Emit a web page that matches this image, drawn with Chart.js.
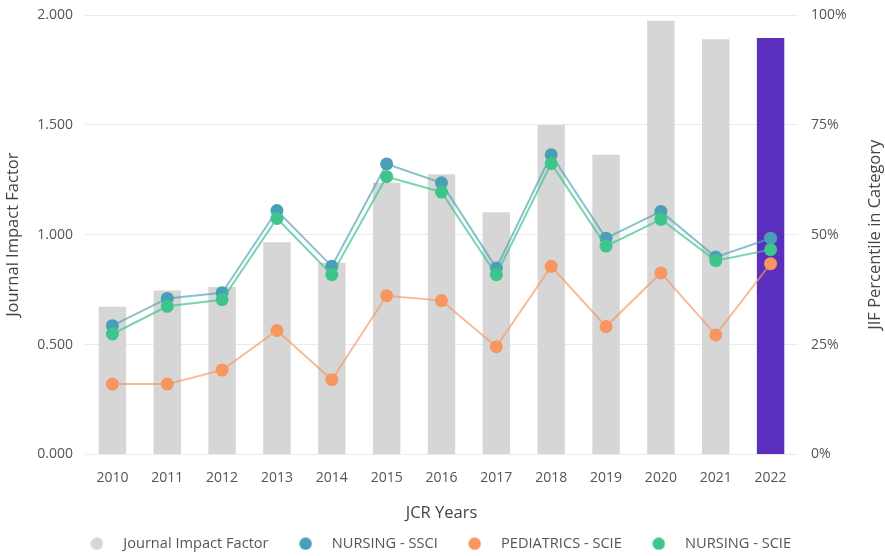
<!DOCTYPE html>
<html>
<head>
<meta charset="utf-8">
<script src="https://cdn.jsdelivr.net/npm/chart.js@4.4.1/dist/chart.umd.min.js"></script>
<style>
  html, body { margin: 0; padding: 0; background: #fff; }
  #wrap { width: 885px; height: 556px; }
</style>
</head>
<body>
<div id="wrap"><canvas id="jcrChart" width="885" height="556"></canvas></div>
<script>
// Dados do gráfico
const years = ['2010', '2011', '2012', '2013', '2014', '2015', '2016', '2017', '2018', '2019', '2020', '2021', '2022'];
const impactFactor = [0.672, 0.746, 0.762, 0.966, 0.872, 1.237, 1.275, 1.102, 1.499, 1.364, 1.974, 1.890, 1.895];
const nursingSsci = [29.3, 35.5, 36.8, 55.5, 42.8, 66.1, 61.8, 42.4, 68.2, 49.2, 55.3, 44.9, 49.2];
const pediatricsScie = [16.0, 16.0, 19.2, 28.2, 17.0, 36.1, 35.0, 24.5, 42.8, 29.1, 41.3, 27.2, 43.4];
const nursingScie = [27.4, 33.7, 35.2, 53.7, 40.9, 63.2, 59.7, 40.9, 66.2, 47.4, 53.5, 44.1, 46.6];
const jifTicks = [0, 0.5, 1, 1.5, 2];
const pctTicks = [0, 25, 50, 75, 100];

const seriesNames = ['Journal Impact Factor', 'NURSING - SSCI', 'PEDIATRICS - SCIE', 'NURSING - SCIE'];
const rightTitle = 'JIF Percentile in Category';

// Cores
const colors = {
    bar: '#d6d6d6',
    barCurrent: '#5b2fbe',
    teal: '#49a0b6',
    tealLine: 'rgba(73, 160, 182, 0.65)',
    orange: '#f6975f',
    orangeLine: 'rgba(246, 151, 95, 0.65)',
    green: '#3ec58b',
    greenLine: 'rgba(62, 197, 139, 0.7)',
    text: '#555555',
    grid: '#ebebeb'
};

// Bolinha da legenda
function legendDot(color) {
    const c = document.createElement('canvas');
    c.width = 13;
    c.height = 13;
    const g = c.getContext('2d');
    g.fillStyle = color;
    g.beginPath();
    g.arc(6.5, 6.5, 6.2, 0, Math.PI * 2);
    g.fill();
    return c;
}
const dots = [legendDot(colors.bar), legendDot(colors.teal), legendDot(colors.orange), legendDot(colors.green)];

Chart.defaults.font.family = '"Open Sans", "Noto Sans", sans-serif';
Chart.defaults.font.size = 14;
Chart.defaults.color = colors.text;

// Título do eixo direito, lido de baixo para cima
const rightTitlePlugin = {
    id: 'rightTitle',
    afterDraw(chart) {
        const { ctx, chartArea } = chart;
        ctx.save();
        ctx.translate(875, (chartArea.top + chartArea.bottom) / 2);
        ctx.rotate(-Math.PI / 2);
        ctx.font = '16.5px "Open Sans", "Noto Sans", sans-serif';
        ctx.fillStyle = '#444';
        ctx.textAlign = 'center';
        ctx.textBaseline = 'middle';
        ctx.fillText(rightTitle, 0, 0);
        ctx.restore();
    }
};

const ctx = document.getElementById('jcrChart').getContext('2d');

new Chart(ctx, {
    type: 'bar',
    data: {
        labels: years,
        datasets: [{
            type: 'bar',
            label: seriesNames[0],
            data: impactFactor,
            yAxisID: 'y',
            backgroundColor: years.map((y, i) => i === years.length - 1 ? colors.barCurrent : colors.bar),
            barPercentage: 0.5,
            categoryPercentage: 1,
            order: 3
        }, {
            type: 'line',
            label: seriesNames[1],
            data: nursingSsci,
            yAxisID: 'y1',
            borderColor: colors.tealLine,
            backgroundColor: colors.teal,
            pointBackgroundColor: colors.teal,
            pointBorderWidth: 0,
            pointRadius: 6.5,
            borderWidth: 2,
            tension: 0,
            order: 2
        }, {
            type: 'line',
            label: seriesNames[2],
            data: pediatricsScie,
            yAxisID: 'y1',
            borderColor: colors.orangeLine,
            backgroundColor: colors.orange,
            pointBackgroundColor: colors.orange,
            pointBorderWidth: 0,
            pointRadius: 6.5,
            borderWidth: 2,
            tension: 0,
            order: 1
        }, {
            type: 'line',
            label: seriesNames[3],
            data: nursingScie,
            yAxisID: 'y1',
            borderColor: colors.greenLine,
            backgroundColor: colors.green,
            pointBackgroundColor: colors.green,
            pointBorderWidth: 0,
            pointRadius: 6.5,
            borderWidth: 2,
            tension: 0,
            order: 0
        }]
    },
    plugins: [rightTitlePlugin],
    options: {
        responsive: false,
        animation: false,
        layout: {
            padding: { top: 15, right: 16, bottom: -5, left: 0 }
        },
        plugins: {
            tooltip: { enabled: false },
            legend: {
                position: 'bottom',
                labels: {
                    usePointStyle: true,
                    pointStyleWidth: 38,
                    padding: 18,
                    color: '#555',
                    font: { size: 14.6 },
                    sort: (a, b) => a.datasetIndex - b.datasetIndex,
                    generateLabels: function(chart) {
                        return chart.data.datasets.map((ds, i) => ({
                            text: ds.label,
                            datasetIndex: i,
                            pointStyle: dots[i],
                            fillStyle: 'transparent',
                            strokeStyle: 'transparent',
                            lineWidth: 0,
                            fontColor: '#555',
                            hidden: false
                        }));
                    }
                }
            }
        },
        scales: {
            x: {
                grid: { display: false, drawTicks: false },
                border: { display: false },
                ticks: { padding: 15, color: '#555', maxRotation: 0 },
                title: {
                    display: true,
                    text: 'JCR Years',
                    color: '#444',
                    font: { size: 16.5 },
                    padding: { top: 0, bottom: -5 }
                },
                afterFit: function(scale) { scale.height = 64; }
            },
            y: {
                position: 'left',
                min: 0,
                max: 2,
                afterBuildTicks: function(scale) { scale.ticks = jifTicks.map(v => ({ value: v })); },
                grid: { color: colors.grid, lineWidth: 1, drawTicks: false },
                border: { display: false },
                ticks: {
                    padding: 12,
                    color: '#555',
                    callback: v => Number(v).toFixed(3)
                },
                title: {
                    display: true,
                    text: 'Journal Impact Factor',
                    color: '#444',
                    font: { size: 16.5 },
                    padding: { top: 3, bottom: 0 }
                },
                afterFit: function(scale) {
                    scale.width = 85;
                    scale.paddingTop = 0;
                    scale.paddingBottom = 0;
                }
            },
            y1: {
                position: 'right',
                min: 0,
                max: 100,
                afterBuildTicks: function(scale) { scale.ticks = pctTicks.map(v => ({ value: v })); },
                grid: { display: false, drawTicks: false },
                border: { display: false },
                ticks: {
                    padding: 13,
                    color: '#555',
                    callback: v => v + '%'
                },
                title: { display: false },
                afterFit: function(scale) {
                    scale.width = 71;
                    scale.paddingTop = 0;
                    scale.paddingBottom = 0;
                }
            }
        }
    }
});
</script>
</body>
</html>
